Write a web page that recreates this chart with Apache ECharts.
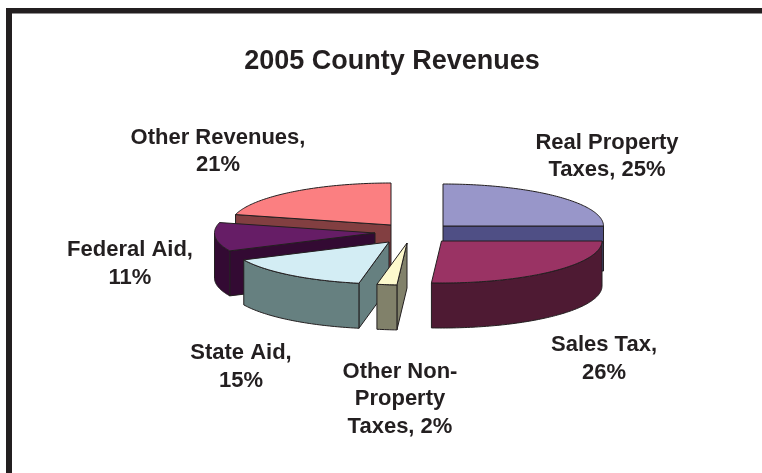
<!DOCTYPE html>
<html>
<head>
<meta charset="utf-8">
<title>2005 County Revenues</title>
<style>
  html, body { margin: 0; padding: 0; background: #fff; }
  #chart { width: 762px; height: 473px; }
</style>
<script src="https://cdn.jsdelivr.net/npm/echarts@6/dist/echarts.min.js"></script>
</head>
<body>
<div id="chart"></div>
<script>
// Revenue shares, clockwise from twelve o'clock.
const titleText = '2005 County Revenues';
const categories = ['Real Property\nTaxes', 'Sales Tax', 'Other Non-\nProperty\nTaxes', 'State Aid', 'Federal Aid', 'Other Revenues'];
const shares = [25, 26, 2, 15, 11, 21];
const percentOnOwnLine = [false, true, false, true, true, true];

// Drawing style of each slice.
const topColors = ['#9896c9', '#9a3364', '#fdf9cd', '#d3edf4', '#661d66', '#fb7f81'];
const sideColors = ['#4f4f85', '#4e1a33', '#81816a', '#668080', '#330a33', '#823f41'];
const apexes = [[443, 226], [441.5, 241], [407, 243], [389, 242], [375, 233], [391, 225]];
const labelCenters = [[607, 156.5], [604, 359], [400, 399], [241, 367], [130, 264], [218, 151.5]];
const paintOrder = [5, 4, 0, 1, 3, 2];

const RX = 160.5, RY = 42, DEPTH = 45;
const OUTLINE = '#231f20';
const total = shares.reduce((a, b) => a + b, 0);

function rimPoint(apex, deg, drop) {
  const r = deg * Math.PI / 180;
  return [apex[0] + RX * Math.sin(r), apex[1] - RY * Math.cos(r) + drop];
}

function arcPoints(apex, from, to, drop) {
  const steps = Math.max(2, Math.ceil(to - from));
  const pts = [];
  for (let i = 0; i <= steps; i++) pts.push(rimPoint(apex, from + (to - from) * i / steps, drop));
  return pts;
}

function facet(points, fill) {
  return {
    type: 'polygon',
    shape: { points },
    style: { fill, stroke: OUTLINE, lineWidth: 1, lineJoin: 'round' }
  };
}

function renderSlice(i, share) {
  const apex = apexes[i];
  let acc = 0;
  for (let k = 0; k < i; k++) acc += shares[k];
  const start = acc / total * 360;
  const end = (acc + share) / total * 360;
  const side = sideColors[i];
  const lower = [apex[0], apex[1] + DEPTH];
  const children = [];

  // Cut faces that look toward the viewer.
  if (start > 180 && start < 360) {
    children.push(facet([apex, rimPoint(apex, start, 0), rimPoint(apex, start, DEPTH), lower], side));
  }
  if (end > 0 && end < 180) {
    children.push(facet([apex, rimPoint(apex, end, 0), rimPoint(apex, end, DEPTH), lower], side));
  }
  // Outer wall on the front half of the rim.
  const wallFrom = Math.max(start, 90), wallTo = Math.min(end, 270);
  if (wallTo > wallFrom) {
    children.push(facet(
      arcPoints(apex, wallFrom, wallTo, 0).concat(arcPoints(apex, wallFrom, wallTo, DEPTH).reverse()),
      side
    ));
  }
  // Top face.
  children.push(facet([apex].concat(arcPoints(apex, start, end, 0)), topColors[i]));
  return { type: 'group', children };
}

function labelText(i) {
  return categories[i] + ',' + (percentOnOwnLine[i] ? '\n' : ' ') + shares[i] + '%';
}

const chart = echarts.init(document.getElementById('chart'), null, { renderer: 'canvas' });
chart.setOption({
  animation: false,
  backgroundColor: '#ffffff',
  title: {
    text: titleText,
    left: 387, top: 43, textAlign: 'center',
    textStyle: { fontFamily: 'Liberation Sans', fontWeight: 'bold', fontSize: 27, color: '#231f20' }
  },
  graphic: [
    { type: 'rect', shape: { x: 6, y: 8, width: 756, height: 5.5 }, style: { fill: OUTLINE } },
    { type: 'rect', shape: { x: 6, y: 8, width: 6, height: 465 }, style: { fill: OUTLINE } }
  ].concat(categories.map((c, i) => ({
    type: 'text',
    x: labelCenters[i][0], y: labelCenters[i][1],
    style: {
      text: labelText(i),
      align: 'center', verticalAlign: 'middle',
      fontFamily: 'Liberation Sans', fontWeight: 'bold', fontSize: 22,
      lineHeight: 27.5, fill: '#231f20'
    }
  }))),
  series: [{
    type: 'custom',
    coordinateSystem: 'none',
    // Painted back to front so nearer slices overlap farther ones.
    data: paintOrder.map(i => shares[i]),
    renderItem: (params, api) => renderSlice(paintOrder[params.dataIndex], api.value(0))
  }]
});
</script>
</body>
</html>
